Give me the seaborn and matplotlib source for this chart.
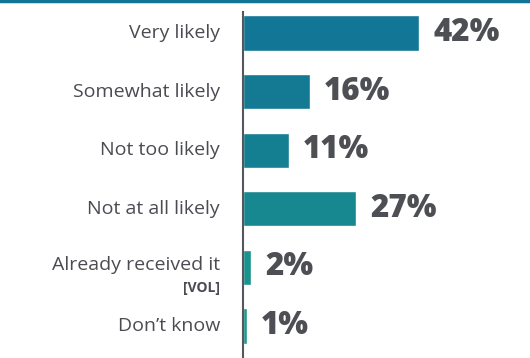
import seaborn as sns
import matplotlib.pyplot as plt
import pandas as pd
from matplotlib.lines import Line2D

categories = ["Very likely", "Somewhat likely", "Not too likely",
              "Not at all likely", "Already received it", "Don\u2019t know"]
values = [42, 16, 11, 27, 2, 1]
bar_colors = ["#127696", "#147a94", "#157f92", "#17888f", "#1a928d", "#1d998c"]

df = pd.DataFrame({"category": categories, "value": values})

sns.set_style("white")
plt.rcParams["font.family"] = ["Open Sans", "DejaVu Sans"]

fig = plt.figure(figsize=(5.30, 3.58), dpi=100)
ax = fig.add_axes([243 / 530, 0.0, 1 - 243 / 530, 1 - 12 / 358])

sns.barplot(data=df, x="value", y="category", hue="category",
            palette=bar_colors, legend=False, width=0.6, ax=ax,
            saturation=1)

ax.set_xlim(0, 68.3)
ax.set_ylim(5.546, -0.358)

# value labels
for i, v in enumerate(values):
    ax.annotate(f"{v}%", xy=(v, i), xytext=(10, 0), textcoords="offset points",
                va="center", ha="left", fontsize=22.5, fontweight="heavy",
                color="#4d4f54")

# category labels
for i, c in enumerate(categories):
    dy = 0
    if c.startswith("Already"):
        dy = 2
    ax.annotate(c, xy=(0, i), xycoords=("axes fraction", "data"),
                xytext=(-16.5, dy), textcoords="offset points",
                va="center", ha="right", fontsize=14, color="#4a4c52")
ax.annotate("[VOL]", xy=(0, 4), xycoords=("axes fraction", "data"),
            xytext=(-16.5, -15), textcoords="offset points",
            va="center", ha="right", fontsize=10, fontweight="bold",
            color="#4a4c52")

ax.set_yticks([])
ax.set_xticks([])
ax.set_xlabel("")
ax.set_ylabel("")
for side in ["top", "right", "bottom"]:
    ax.spines[side].set_visible(False)
ax.spines["left"].set_color("#55575c")
ax.spines["left"].set_linewidth(1.5)

# top rule
fig.add_artist(Line2D([0, 1], [1 - 1 / 358, 1 - 1 / 358], color="#137496",
                      linewidth=2.5, transform=fig.transFigure))

fig.savefig("out.png", dpi=100)
